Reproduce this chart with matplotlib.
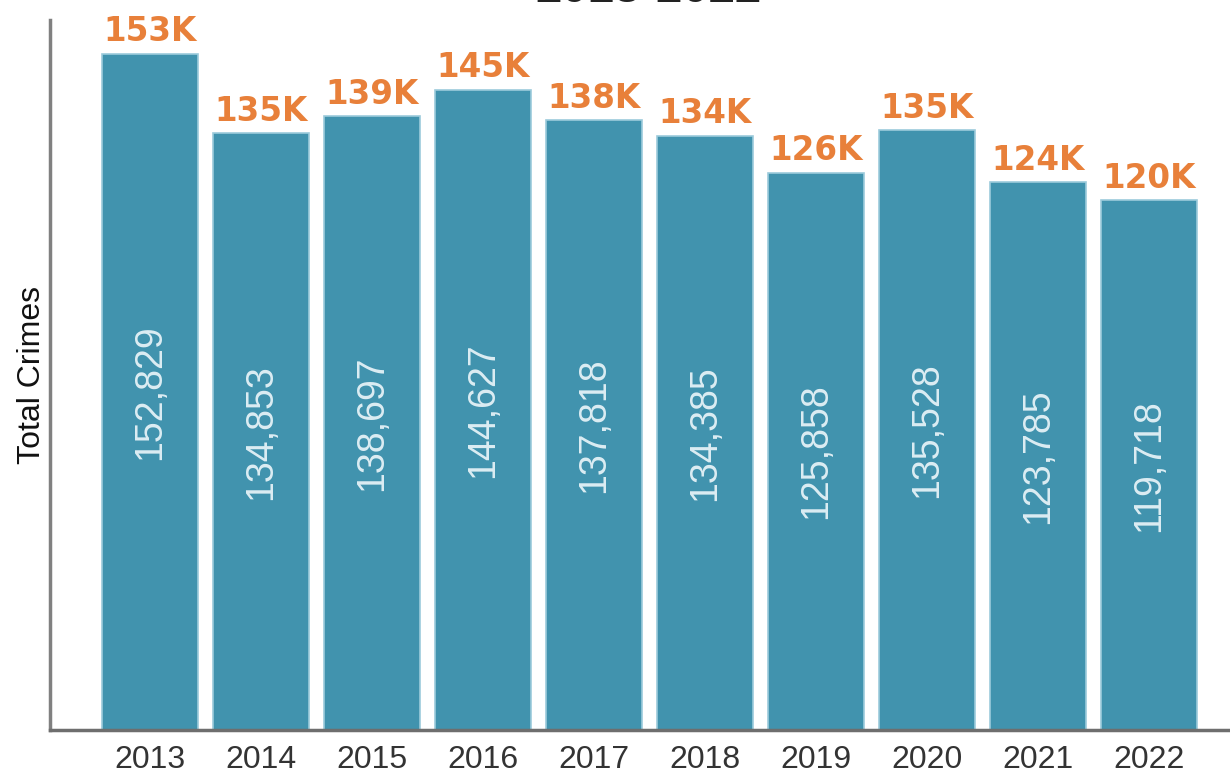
#!/usr/bin/env python3
"""
Bar chart of total crimes per year, 2013-2022.
"""

import matplotlib
matplotlib.use("Agg")
import matplotlib.pyplot as plt
import numpy as np

years = ["2013", "2014", "2015", "2016", "2017", "2018", "2019", "2020", "2021", "2022"]
totals = [152829, 134853, 138697, 144627, 137818, 134385, 125858, 135528, 123785, 119718]
short_labels = ["153K", "135K", "139K", "145K", "138K", "134K", "126K", "135K", "124K", "120K"]

BAR_COLOR = "#4193ae"
EDGE_COLOR = "#9ccbdb"
ORANGE = "#e8803a"

plt.rcParams["font.family"] = ["Liberation Sans", "DejaVu Sans"]

fig = plt.figure(figsize=(12.3, 7.77), dpi=100)
ax = fig.add_axes([50 / 1230, 47 / 777, 1180 / 1230, 710 / 777])

x = np.arange(len(years))
ax.bar(x, totals, width=0.87, color=BAR_COLOR, edgecolor=EDGE_COLOR, linewidth=1.2, zorder=2)

# value labels: short on top (orange), full inside bar (rotated)
for i, v in enumerate(totals):
    ax.text(i, v + 1300, short_labels[i], ha="center", va="bottom",
            color=ORANGE, fontsize=23.5, fontweight="bold", family="DejaVu Sans")
    ax.text(i, v / 2, f"{v:,}", ha="center", va="center", rotation=90,
            color="#dcedf3", fontsize=27)

ax.set_xlim(-0.9, 9.73)
ax.set_ylim(0, 160500)
ax.set_xticks(x)
ax.set_xticklabels(years, fontsize=23, color="#333333")
ax.tick_params(axis="x", length=0, pad=11)
ax.set_yticks([])
ax.set_ylabel("Total Crimes", fontsize=23, color="#111111", labelpad=2)

for side in ["top", "right"]:
    ax.spines[side].set_visible(False)
ax.spines["left"].set_color("#808080")
ax.spines["left"].set_linewidth(2.5)
ax.spines["bottom"].set_color("#6e6e6e")
ax.spines["bottom"].set_linewidth(2.5)

# title is mostly cut off at the top of the image, as in the source
fig.text(0.527, 1.0135, "2013-2022", ha="center", va="center",
         fontsize=34, fontweight="bold", color="#222222")

fig.savefig("out.png", dpi=100)
